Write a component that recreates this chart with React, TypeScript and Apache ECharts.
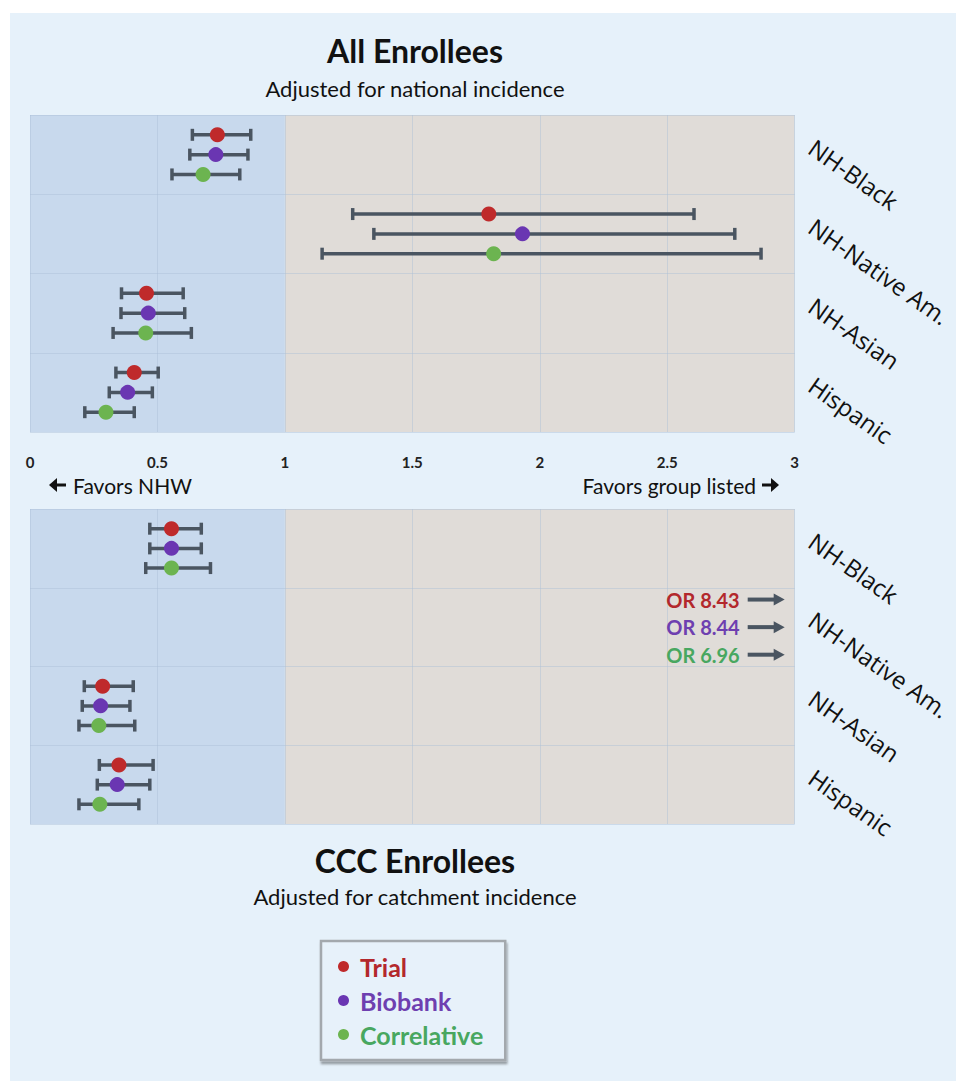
import React, { useEffect, useRef } from "react";
import * as echarts from "echarts";

const categories = ["NH-Black", "NH-Native Am.", "NH-Asian", "Hispanic"];
const xTicks = [0, 0.5, 1, 1.5, 2, 2.5, 3];
const groups = ["Trial", "Biobank", "Correlative"];

// All Enrollees (adjusted for national incidence)
const allTrialOR = [0.735, 1.8, 0.457, 0.409];
const allTrialLo = [0.637, 1.266, 0.359, 0.337];
const allTrialHi = [0.866, 2.605, 0.601, 0.503];
const allBiobankOR = [0.729, 1.932, 0.464, 0.383];
const allBiobankLo = [0.627, 1.349, 0.357, 0.311];
const allBiobankHi = [0.855, 2.765, 0.607, 0.48];
const allCorrelativeOR = [0.679, 1.819, 0.454, 0.298];
const allCorrelativeLo = [0.557, 1.146, 0.326, 0.215];
const allCorrelativeHi = [0.823, 2.868, 0.633, 0.409];

// CCC Enrollees (adjusted for catchment incidence)
const cccTrialOR = [0.555, 8.43, 0.285, 0.349];
const cccTrialLo = [0.47, null, 0.213, 0.272];
const cccTrialHi = [0.672, null, 0.405, 0.483];
const cccBiobankOR = [0.555, 8.44, 0.277, 0.342];
const cccBiobankLo = [0.47, null, 0.205, 0.264];
const cccBiobankHi = [0.672, null, 0.392, 0.47];
const cccCorrelativeOR = [0.555, 6.96, 0.27, 0.274];
const cccCorrelativeLo = [0.454, null, 0.192, 0.192];
const cccCorrelativeHi = [0.708, null, 0.411, 0.427];

const shadeBands = [
  [0, 1],
  [1, 3],
];

const dotColors = ["#bf2a2b", "#6a36b2", "#6cb450"];
const textColors = ["#b3282c", "#6e3fb0", "#48a760"];
const barColor = "#4a5561";
const xMin = 0;
const xMax = 3;

function makeBg(gridIdx: number) {
  return {
    type: "custom",
    silent: true,
    xAxisIndex: gridIdx,
    yAxisIndex: gridIdx,
    z: 0,
    data: shadeBands.map((b, i) => [b[0], b[1], i]),
    encode: { x: [0, 1] },
    renderItem: (params: any, api: any) => {
      const a = api.value(0);
      const b = api.value(1);
      const i = api.value(2);
      const cs = params.coordSys;
      const x0 = api.coord([a, 0])[0];
      const x1 = api.coord([b, 0])[0];
      return {
        type: "rect",
        shape: { x: x0, y: cs.y, width: x1 - x0, height: cs.height },
        style: { fill: i === 0 ? "#c8d9ed" : "#e0dcd8" },
      };
    },
  };
}

function makeSeries(
  k: number,
  gridIdx: number,
  est: number[],
  lo: (number | null)[],
  hi: (number | null)[]
) {
  return {
    type: "custom",
    name: groups[k],
    xAxisIndex: gridIdx,
    yAxisIndex: gridIdx,
    z: 3,
    itemStyle: { color: dotColors[k] },
    data: categories.map((_, i) => [
      i,
      est[i],
      lo[i] == null ? NaN : lo[i],
      hi[i] == null ? NaN : hi[i],
    ]),
    encode: { x: [1], y: 0 },
    renderItem: (params: any, api: any) => {
      const idx = api.value(0);
      const e = api.value(1);
      const l = api.value(2);
      const h = api.value(3);
      const band = api.size([0, 1])[1];
      if (e > xMax) {
        const edge = api.coord([xMax, idx]);
        const y = edge[1] + (k - 1) * 0.35 * band;
        const xe = edge[0] - 10;
        return {
          type: "group",
          children: [
            {
              type: "text",
              style: {
                text: "OR " + e.toFixed(2),
                x: xe - 45,
                y: y,
                textAlign: "right",
                textVerticalAlign: "middle",
                align: "right",
                verticalAlign: "middle",
                fill: textColors[k],
                font: "bold 20px Lato",
              },
            },
            {
              type: "line",
              shape: { x1: xe - 37, y1: y, x2: xe - 8, y2: y },
              style: { stroke: barColor, lineWidth: 4 },
            },
            {
              type: "polygon",
              shape: {
                points: [
                  [xe, y],
                  [xe - 11, y - 6],
                  [xe - 11, y + 6],
                ],
              },
              style: { fill: barColor },
            },
          ],
        };
      }
      const c = api.coord([e, idx]);
      const y = c[1] + (k - 1) * 0.25 * band;
      const xl = api.coord([l, idx])[0];
      const xh = api.coord([h, idx])[0];
      return {
        type: "group",
        children: [
          {
            type: "line",
            shape: { x1: xl, y1: y, x2: xh, y2: y },
            style: { stroke: barColor, lineWidth: 3.5 },
          },
          {
            type: "line",
            shape: { x1: xl, y1: y - 6, x2: xl, y2: y + 6 },
            style: { stroke: barColor, lineWidth: 3.5 },
          },
          {
            type: "line",
            shape: { x1: xh, y1: y - 6, x2: xh, y2: y + 6 },
            style: { stroke: barColor, lineWidth: 3.5 },
          },
          {
            type: "circle",
            shape: { cx: c[0], cy: y, r: 7.5 },
            style: { fill: dotColors[k] },
          },
        ],
      };
    },
  };
}

function xAxisFor(gridIdx: number, showLabels: boolean) {
  return {
    type: "value",
    gridIndex: gridIdx,
    min: xMin,
    max: xMax,
    interval: 0.5,
    z: 1,
    axisLine: { show: false },
    axisTick: { show: false },
    axisLabel: {
      show: showLabels,
      margin: 22,
      fontFamily: "Lato",
      fontWeight: "bold",
      fontSize: 15,
      color: "#222",
      formatter: (v: number) => (xTicks.includes(v) ? String(v) : ""),
    },
    splitLine: { show: true, lineStyle: { color: "rgba(170,190,215,0.45)", width: 1 } },
  };
}

function yAxisFor(gridIdx: number) {
  return {
    type: "category",
    gridIndex: gridIdx,
    data: categories,
    inverse: true,
    position: "right",
    z: 1,
    axisLine: { show: false },
    axisTick: { show: false },
    splitLine: { show: true, lineStyle: { color: "rgba(170,190,215,0.45)", width: 1 } },
    axisLabel: {
      rotate: -35,
      margin: 10,
      verticalAlign: "bottom",
      fontFamily: "Open Sans",
      fontSize: 24,
      color: "#111",
    },
  };
}

function arrowShape(xTail: number, xTip: number, y: number) {
  const dir = xTip > xTail ? 1 : -1;
  return [
    {
      type: "line",
      silent: true,
      shape: { x1: xTail, y1: y, x2: xTip - dir * 6, y2: y },
      style: { stroke: "#111", lineWidth: 3 },
    },
    {
      type: "polygon",
      silent: true,
      shape: {
        points: [
          [xTip, y],
          [xTip - dir * 8, y - 7],
          [xTip - dir * 8, y + 7],
        ],
      },
      style: { fill: "#111" },
    },
  ];
}

export default function App() {
  const ref = useRef<HTMLDivElement>(null);
  useEffect(() => {
    if (!ref.current) return;
    const chart = echarts.init(ref.current, undefined, { renderer: "svg" });
    const option: any = {
      animation: false,
      backgroundColor: "#ffffff",
      grid: [
        { left: 30, top: 115, width: 766, height: 317 },
        { left: 30, top: 509, width: 766, height: 315 },
      ],
      xAxis: [xAxisFor(0, true), xAxisFor(1, false)],
      yAxis: [yAxisFor(0), yAxisFor(1)],
      legend: {
        orient: "vertical",
        left: 321,
        top: 941,
        padding: [13, 22, 13, 17],
        itemGap: 9,
        itemWidth: 11,
        itemHeight: 11,
        icon: "circle",
        selectedMode: false,
        borderColor: "#a3a8ad",
        borderWidth: 2.5,
        backgroundColor: "#e7f1fa",
        shadowColor: "rgba(0,0,0,0.35)",
        shadowOffsetY: 3,
        shadowOffsetX: 1,
        shadowBlur: 2,
        textStyle: {
          fontFamily: "Lato",
          fontWeight: "bold",
          fontSize: 25,
          padding: [0, 0, 0, 6],
        },
        data: groups.map((g, k) => ({ name: g, textStyle: { color: textColors[k] } })),
      },
      graphic: [
        {
          type: "rect",
          z: -10,
          silent: true,
          shape: { x: 10, y: 13, width: 946, height: 1068 },
          style: { fill: "#e6f1fa" },
        },
        {
          type: "text",
          style: {
            text: "All Enrollees",
            x: 415,
            y: 50,
            textAlign: "center",
            textVerticalAlign: "middle",
            font: "bold 32px Lato",
            fill: "#111",
          },
        },
        {
          type: "text",
          style: {
            text: "Adjusted for national incidence",
            x: 415,
            y: 88,
            textAlign: "center",
            textVerticalAlign: "middle",
            font: "22px Lato",
            fill: "#111",
          },
        },
        ...arrowShape(66, 49, 485),
        {
          type: "text",
          style: {
            text: "Favors NHW",
            x: 73,
            y: 485,
            textAlign: "left",
            textVerticalAlign: "middle",
            font: "21px Lato",
            fill: "#111",
          },
        },
        {
          type: "text",
          style: {
            text: "Favors group listed",
            x: 756,
            y: 485,
            textAlign: "right",
            textVerticalAlign: "middle",
            font: "21px Lato",
            fill: "#111",
          },
        },
        ...arrowShape(762, 779, 485),
        {
          type: "text",
          style: {
            text: "CCC Enrollees",
            x: 415,
            y: 860,
            textAlign: "center",
            textVerticalAlign: "middle",
            font: "bold 32px Lato",
            fill: "#111",
          },
        },
        {
          type: "text",
          style: {
            text: "Adjusted for catchment incidence",
            x: 415,
            y: 896,
            textAlign: "center",
            textVerticalAlign: "middle",
            font: "22px Lato",
            fill: "#111",
          },
        },
      ],
      series: [
        makeBg(0),
        makeBg(1),
        makeSeries(0, 0, allTrialOR, allTrialLo, allTrialHi),
        makeSeries(1, 0, allBiobankOR, allBiobankLo, allBiobankHi),
        makeSeries(2, 0, allCorrelativeOR, allCorrelativeLo, allCorrelativeHi),
        makeSeries(0, 1, cccTrialOR, cccTrialLo, cccTrialHi),
        makeSeries(1, 1, cccBiobankOR, cccBiobankLo, cccBiobankHi),
        makeSeries(2, 1, cccCorrelativeOR, cccCorrelativeLo, cccCorrelativeHi),
      ],
    };
    chart.setOption(option);
    return () => chart.dispose();
  }, []);
  return (
    <div
      ref={ref}
      style={{ position: "absolute", left: 0, top: 0, width: 956, height: 1081 }}
    />
  );
}
